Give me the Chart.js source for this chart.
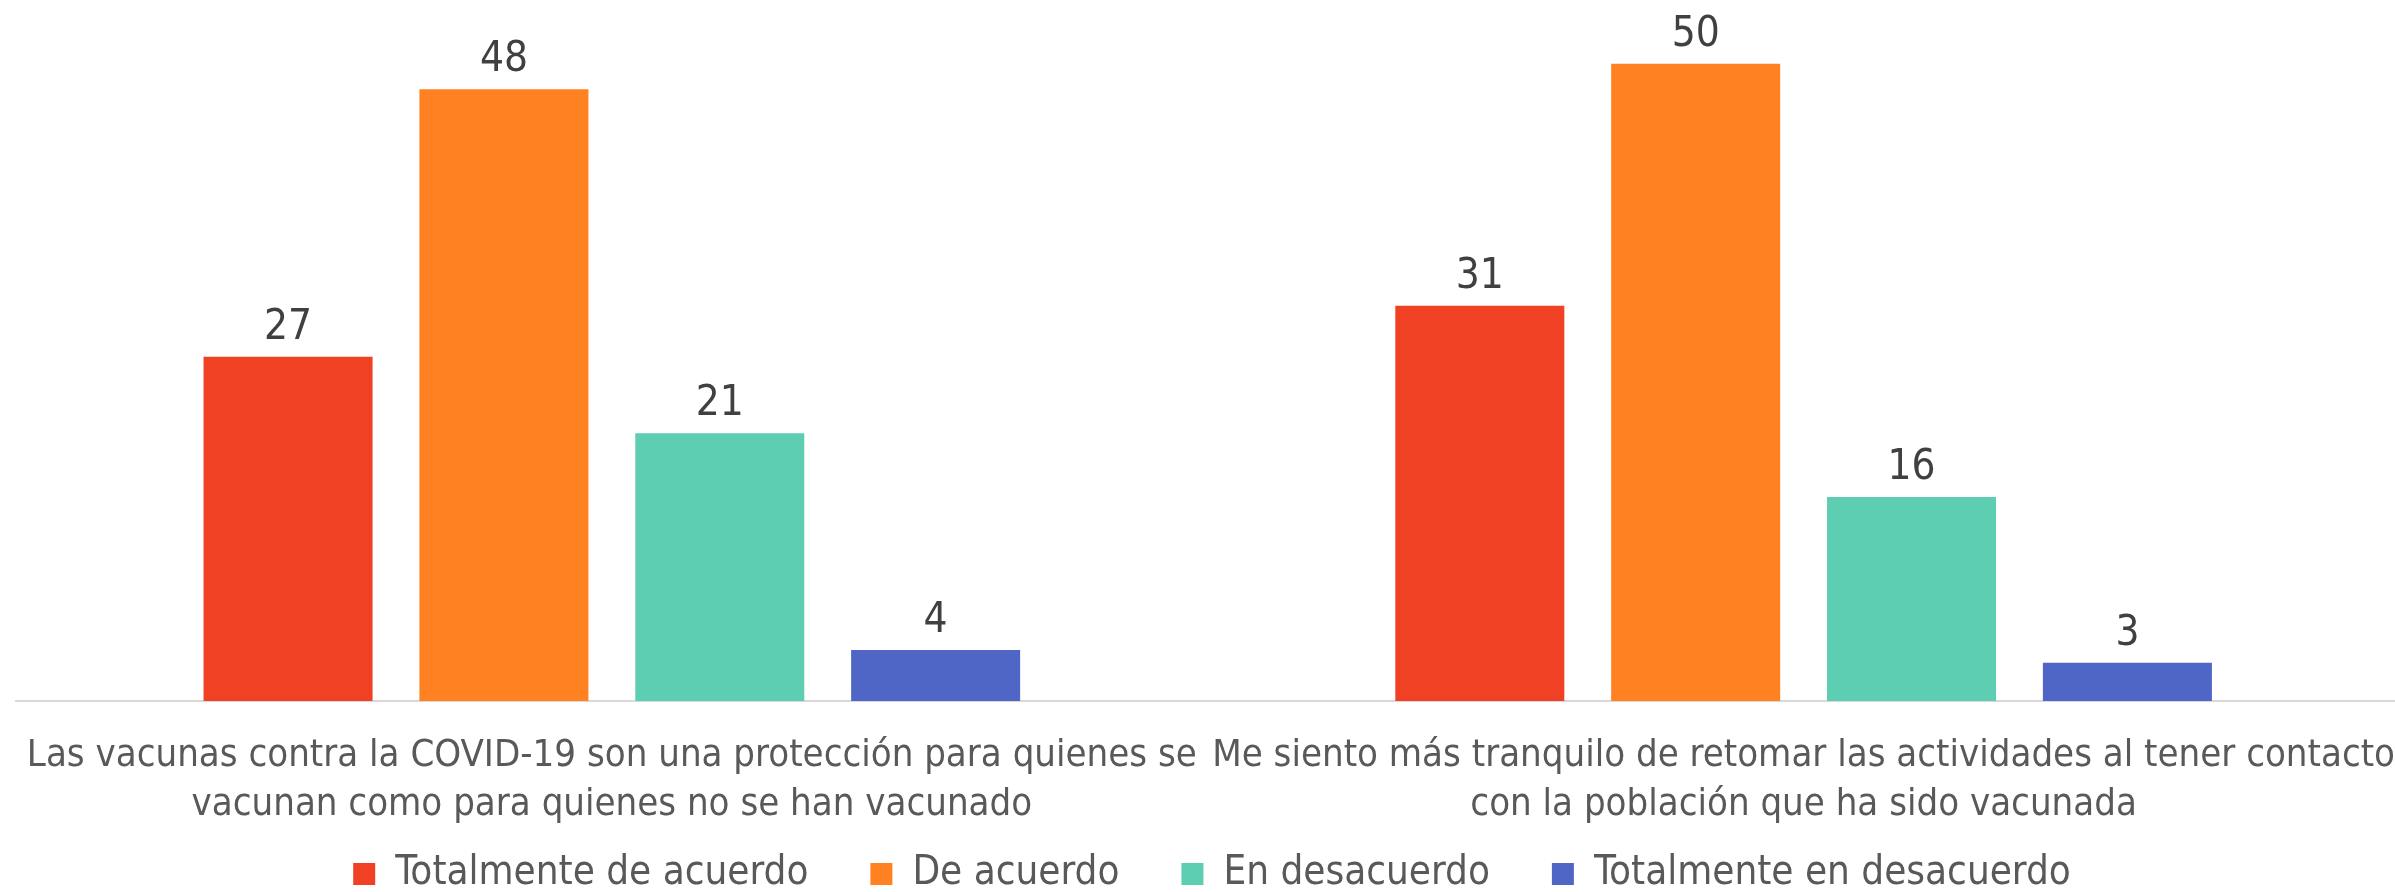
<!DOCTYPE html>
<html>
<head>
<meta charset="utf-8">
<script src="https://cdn.jsdelivr.net/npm/chart.js@4"></script>
<style>
  html, body { margin: 0; padding: 0; background: #fff; overflow: hidden; }
  #wrap { width: 2424px; height: 968px; }
</style>
</head>
<body>
<div id="wrap"><canvas id="chart1"></canvas></div>
<script>
const categories = [
  ['Las vacunas contra la COVID-19 son una protección para quienes se', 'vacunan como para quienes no se han vacunado'],
  ['Me siento más tranquilo de retomar las actividades al tener contacto', 'con la población que ha sido vacunada']
];
const seriesNames = ['Totalmente de acuerdo', 'De acuerdo', 'En desacuerdo', 'Totalmente en desacuerdo'];
const totalmenteAcuerdo = [27, 31];
const deAcuerdo = [48, 50];
const enDesacuerdo = [21, 16];
const totalmenteDesacuerdo = [4, 3];
const colors = ['#F04125', '#FF8121', '#5DCEB1', '#4F66C6'];

const fontFamily = "'Liberation Sans Narrow', 'DejaVu Sans Condensed', sans-serif";

// numbers above the bars
const valueLabels = {
  id: 'valueLabels',
  afterDatasetsDraw(chart) {
    const ctx = chart.ctx;
    ctx.save();
    ctx.font = '42px ' + fontFamily;
    ctx.fillStyle = '#404040';
    ctx.textAlign = 'center';
    ctx.textBaseline = 'alphabetic';
    chart.data.datasets.forEach((ds, i) => {
      chart.getDatasetMeta(i).data.forEach((bar, j) => {
        ctx.fillText(ds.data[j], bar.x, bar.y - 18);
      });
    });
    ctx.restore();
  }
};

// legend sits close under the category labels, pull it up
const legendLift = {
  id: 'legendLift',
  afterLayout(chart) {
    chart.legend.top -= 64;
    chart.legend.bottom -= 64;
  }
};

const allData = [totalmenteAcuerdo, deAcuerdo, enDesacuerdo, totalmenteDesacuerdo];

const ctx = document.getElementById('chart1').getContext('2d');
const myChart = new Chart(ctx, {
  type: 'bar',
  data: {
    labels: categories,
    datasets: allData.map((d, i) => ({
      label: seriesNames[i],
      data: d,
      backgroundColor: colors[i],
      barPercentage: 0.783,
      categoryPercentage: 0.7245
    }))
  },
  options: {
    responsive: true,
    maintainAspectRatio: false,
    animation: false,
    layout: { padding: { left: 14, right: 14, top: 0, bottom: 0 } },
    scales: {
      y: {
        display: false,
        min: 0,
        max: 55
      },
      x: {
        // invisible tick marks just to push the labels down a little
        grid: { display: true, drawOnChartArea: false, drawTicks: true, tickLength: 5, color: 'rgba(0,0,0,0)' },
        border: { color: '#D9D9D9', width: 2 },
        ticks: {
          color: '#595959',
          font: { family: fontFamily, size: 38, lineHeight: 1.29 },
          padding: 26,
          maxRotation: 0
        }
      }
    },
    plugins: {
      legend: {
        position: 'bottom',
        labels: {
          color: '#595959',
          font: { family: fontFamily, size: 40 },
          boxWidth: 22,
          boxHeight: 22,
          padding: 62
        }
      },
      tooltip: { enabled: false }
    }
  },
  plugins: [valueLabels, legendLift]
});
</script>
</body>
</html>
